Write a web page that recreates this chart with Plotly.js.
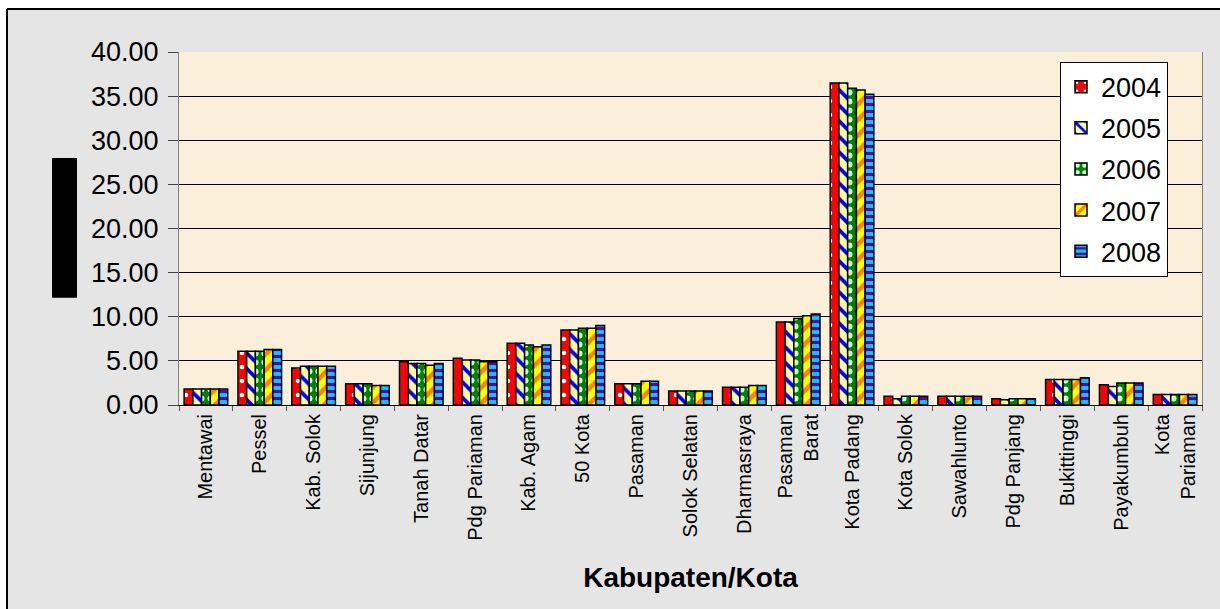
<!DOCTYPE html>
<html>
<head>
<meta charset="utf-8">
<script src="https://cdn.plot.ly/plotly-3.0.1.min.js"></script>
<style>html,body{margin:0;padding:0;background:#fff;}#chart{width:1220px;height:609px;}</style>
</head>
<body>
<div id="chart"></div>
<script>
const categories = ["Mentawai","Pessel","Kab. Solok","Sijunjung","Tanah Datar","Pdg Pariaman","Kab. Agam","50 Kota","Pasaman","Solok Selatan","Dharmasraya","Pasaman<br>Barat","Kota Padang","Kota Solok","Sawahlunto","Pdg Panjang","Bukittinggi","Payakumbuh","Kota<br>Pariaman"];
const years = ["2004","2005","2006","2007","2008"];
const v2004 = [1.8, 6.1, 4.2, 2.4, 4.9, 5.3, 7.0, 8.5, 2.4, 1.6, 2.0, 9.4, 36.5, 1.0, 1.0, 0.7, 2.9, 2.3, 1.2];
const v2005 = [1.8, 6.1, 4.4, 2.4, 4.7, 5.1, 7.0, 8.5, 2.4, 1.6, 2.0, 9.4, 36.5, 0.7, 1.0, 0.6, 2.9, 2.1, 1.2];
const v2006 = [1.8, 6.1, 4.4, 2.4, 4.7, 5.1, 6.8, 8.7, 2.4, 1.6, 2.0, 9.8, 35.9, 1.0, 1.0, 0.7, 2.9, 2.5, 1.2];
const v2007 = [1.8, 6.3, 4.4, 2.2, 4.5, 4.9, 6.6, 8.7, 2.7, 1.6, 2.2, 10.1, 35.7, 1.0, 1.0, 0.7, 2.9, 2.5, 1.2];
const v2008 = [1.8, 6.3, 4.4, 2.2, 4.7, 4.9, 6.8, 9.0, 2.7, 1.6, 2.2, 10.3, 35.2, 1.0, 1.0, 0.7, 3.1, 2.5, 1.2];
const seriesValues = [v2004, v2005, v2006, v2007, v2008];

const styles = [
  {shape: ".",  bg: "#ff0000", fg: "#ffffff", size: 14, solidity: 0.08},
  {shape: "\\", bg: "#ffff99", fg: "#0000ff", size: 11, solidity: 0.35},
  {shape: ".",  bg: "#008000", fg: "#ccffcc", size: 9,  solidity: 0.35},
  {shape: "/",  bg: "#ffff00", fg: "#ff8000", size: 11, solidity: 0.4},
  {shape: "-",  bg: "#00ccff", fg: "#660099", size: 7,  solidity: 0.45}
];

const font = "Liberation Sans, Arial, sans-serif";

const traces = years.map((yr, i) => ({
  type: "bar",
  name: yr,
  x: categories,
  y: seriesValues[i],
  legendgroup: yr,
  marker: {
    color: styles[i].bg,
    line: {color: "#000000", width: 1.5},
    pattern: {shape: styles[i].shape, bgcolor: styles[i].bg, fgcolor: styles[i].fg,
              size: styles[i].size, solidity: styles[i].solidity, fillmode: "replace"}
  },
  hoverinfo: "x+y+name"
}));

const L = 179, R = 1202, T = 52, B = 405.3, W = 1220, H = 609;
const px = v => (v - L) / (R - L);
const py = v => (B - v) / (B - T);

const layout = {
  width: W, height: H,
  margin: {l: L, r: W - R, t: T, b: H - B, pad: 0},
  paper_bgcolor: "#e5e5e5",
  plot_bgcolor: "#fcefd9",
  font: {family: font, color: "#000000"},
  barmode: "group",
  bargap: 0.19,
  bargroupgap: 0,
  showlegend: true,
  legend: {
    x: px(1060), y: py(61.7), xanchor: "left", yanchor: "top",
    bgcolor: "#ffffff", bordercolor: "#000000", borderwidth: 1,
    font: {family: font, size: 27, color: "#000000"},
    tracegroupgap: 3, itemwidth: 30
  },
  xaxis: {
    type: "category",
    tickangle: -90,
    tickfont: {family: font, size: 20, color: "#000000"},
    ticks: "outside", ticklen: 5, tickcolor: "#555555", tickson: "boundaries",
    showline: true, linecolor: "#000000", linewidth: 1,
    showgrid: false,
    automargin: false,
    title: {text: "<b>Kabupaten/Kota</b>", font: {family: font, size: 28, color: "#000000"}, standoff: 27}
  },
  yaxis: {
    range: [0, 40], dtick: 5, tick0: 0, tickformat: ".2f",
    tickfont: {family: font, size: 27, color: "#000000"},
    ticks: "outside", ticklen: 10, tickcolor: "#444444",
    ticklabelstandoff: 4,
    showline: true, linecolor: "#808080", linewidth: 1, mirror: true,
    showgrid: true, gridcolor: "#000000", gridwidth: 1,
    zeroline: false,
    automargin: false
  },
  shapes: [
    {type: "rect", xref: "paper", yref: "paper", x0: px(0) - 0.01, x1: px(7), y0: py(H) - 0.02, y1: py(0) + 0.02,
     fillcolor: "#ffffff", line: {width: 0}, layer: "above"},
    {type: "rect", xref: "paper", yref: "paper", x0: px(0) - 0.01, x1: px(W) + 0.01, y0: py(9), y1: py(0) + 0.02,
     fillcolor: "#ffffff", line: {width: 0}, layer: "above"},
    {type: "line", xref: "paper", yref: "paper", x0: px(7), x1: px(7), y0: py(H) - 0.02, y1: py(9),
     line: {color: "#000000", width: 2}, layer: "above"},
    {type: "line", xref: "paper", yref: "paper", x0: px(7), x1: px(W) + 0.01, y0: py(9), y1: py(9),
     line: {color: "#000000", width: 2}, layer: "above"},
    {type: "rect", xref: "paper", yref: "paper", x0: px(52), x1: px(77), y0: py(298), y1: py(158),
     fillcolor: "#000000", line: {width: 0}, layer: "above"}
  ]
};

Plotly.newPlot("chart", traces, layout, {displayModeBar: false, staticPlot: true});
</script>
</body>
</html>
